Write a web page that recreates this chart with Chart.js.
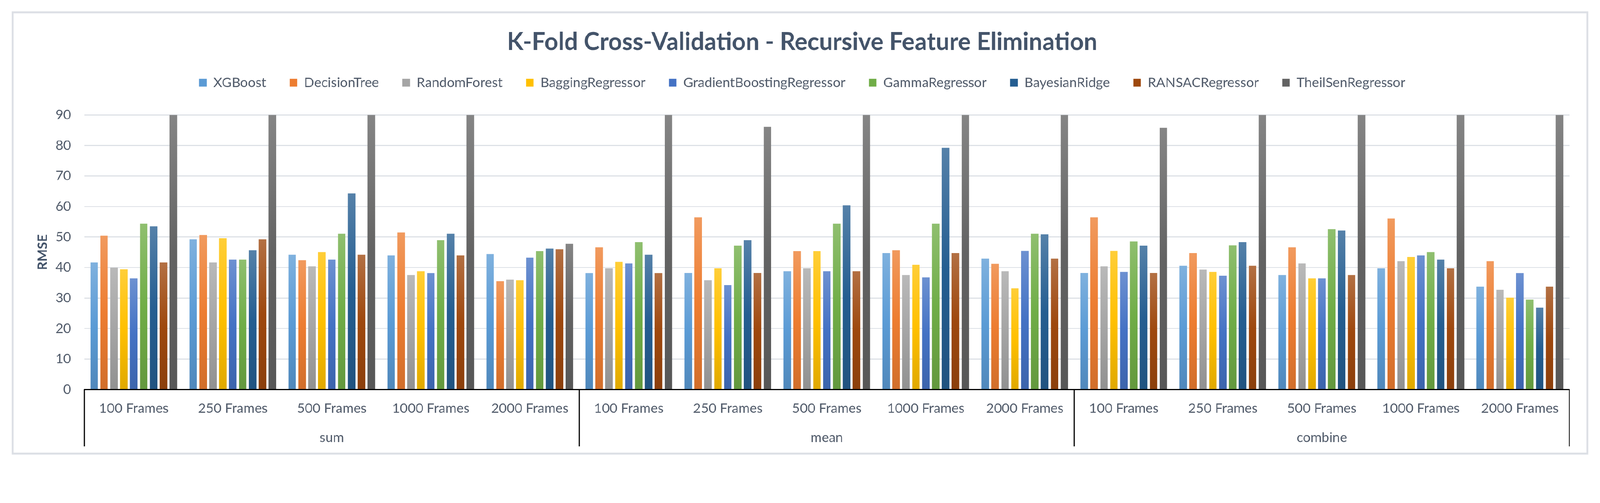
<!DOCTYPE html>
<html>
<head>
<meta charset="utf-8">
<title>K-Fold Cross-Validation - Recursive Feature Elimination</title>
<script src="https://cdn.jsdelivr.net/npm/chart.js@4.4.1/dist/chart.umd.min.js"></script>
<style>
  html, body { margin: 0; padding: 0; background: #fff; overflow: hidden; }
  #escena { position: absolute; left: 0; top: 0; width: 4386px; height: 1288px; transform-origin: 0 0; }
  .marco {
    position: absolute; left: 32px; top: 31px;
    width: 4322px; height: 1215px;
    border: 5px solid #dcdfe5; box-sizing: border-box;
  }
  canvas { display: block; }
</style>
</head>
<body>
<div id="escena">
  <div class="marco"><canvas id="grafica" width="4312" height="1205" style="width:4312px;height:1205px"></canvas></div>
</div>
<script>
// Categorias del eje x (5 tamaños por cada metodo de agregacion)
const frames = ['100 Frames', '250 Frames', '500 Frames', '1000 Frames', '2000 Frames'];
const grupos = ['sum', 'mean', 'combine'];
const yTicks = [0, 10, 20, 30, 40, 50, 60, 70, 80, 90];

// RMSE por modelo: sum(100..2000), mean(100..2000), combine(100..2000)
const xgboost        = [41.6, 49.3, 44.2, 44.0, 44.4, 38.1, 38.2, 38.8, 44.7, 42.9, 38.2, 40.6, 37.5, 39.7, 33.7];
const decisionTree   = [50.4, 50.6, 42.4, 51.5, 35.5, 46.6, 56.5, 45.3, 45.7, 41.2, 56.5, 44.7, 46.6, 56.0, 42.1];
const randomForest   = [39.9, 41.6, 40.4, 37.5, 36.0, 39.7, 35.8, 39.7, 37.5, 38.8, 40.4, 39.3, 41.3, 42.1, 32.7];
const bagging        = [39.4, 49.6, 45.0, 38.8, 35.8, 41.9, 39.7, 45.3, 40.9, 33.2, 45.5, 38.6, 36.5, 43.4, 30.1];
const gradBoosting   = [36.5, 42.6, 42.6, 38.1, 43.2, 41.3, 34.2, 38.8, 36.8, 45.5, 38.6, 37.3, 36.5, 44.0, 38.1];
const gamma          = [54.3, 42.6, 51.1, 48.9, 45.3, 48.3, 47.1, 54.3, 54.3, 51.1, 48.5, 47.3, 52.5, 45.0, 29.5];
const bayesianRidge  = [53.5, 45.7, 64.3, 51.1, 46.2, 44.2, 48.9, 60.4, 79.2, 50.8, 47.1, 48.3, 52.1, 42.6, 26.8];
const ransac         = [41.6, 49.3, 44.2, 44.0, 46.0, 38.1, 38.2, 38.8, 44.7, 42.9, 38.2, 40.6, 37.5, 39.7, 33.7];
const theilSen       = [90, 90, 90, 90, 47.8, 90, 86.1, 90, 90, 90, 85.8, 90, 90, 90, 90];

const modelos = ['XGBoost', 'DecisionTree', 'RandomForest', 'BaggingRegressor', 'GradientBoostingRegressor',
                 'GammaRegressor', 'BayesianRidge', 'RANSACRegressor', 'TheilSenRegressor'];
const series = [xgboost, decisionTree, randomForest, bagging, gradBoosting, gamma, bayesianRidge, ransac, theilSen];
const colores = ['#5b9bd5', '#ed7d31', '#a5a5a5', '#ffc000', '#4472c4', '#70ad47', '#255e91', '#9e480e', '#636363'];

const etiquetas = [];
grupos.forEach(() => frames.forEach(f => etiquetas.push(f)));

// la ventana real es mas estrecha: escalar la escena para que quepa
const k = window.innerWidth / 4386;
document.getElementById('escena').style.transform = 'scale(' + k + ')';

// mezcla un color hex con blanco (t>0) o negro (t<0)
function mezclar(hex, t) {
  const n = parseInt(hex.slice(1), 16);
  const c = [(n >> 16) & 255, (n >> 8) & 255, n & 255].map(v =>
    Math.round(t > 0 ? v + (255 - v) * t : v * (1 + t)));
  return 'rgb(' + c.join(',') + ')';
}

function degradado(base) {
  return function (ctx) {
    const chart = ctx.chart;
    if (ctx.type !== 'data' || !chart.chartArea || !chart.scales.y) return base;
    const y = chart.scales.y;
    const top = y.getPixelForValue(Math.min(ctx.raw, y.max));
    const bottom = y.getPixelForValue(0);
    if (!isFinite(top) || !isFinite(bottom) || top === bottom) return base;
    const g = chart.ctx.createLinearGradient(0, top, 0, bottom);
    g.addColorStop(0, mezclar(base, 0.22));
    g.addColorStop(0.5, base);
    g.addColorStop(1, mezclar(base, -0.12));
    return g;
  };
}

const fuente = 'Lato, "Open Sans", sans-serif';
const colorTexto = '#535d6c';

// lineas verticales que separan sum / mean / combine bajo el eje
const separadores = {
  id: 'separadores',
  afterDraw(chart) {
    const x = chart.scales.x, x2 = chart.scales.x2;
    const ancho = (x.right - x.left) / etiquetas.length;
    const c = chart.ctx;
    c.save();
    c.strokeStyle = '#000';
    c.lineWidth = 3;
    for (let i = 0; i <= grupos.length; i++) {
      const px = Math.round(x.left + i * frames.length * ancho);
      c.beginPath();
      c.moveTo(px, chart.chartArea.bottom);
      c.lineTo(px, x2.bottom);
      c.stroke();
    }
    c.restore();
  }
};

// espacio extra entre la leyenda y el area del grafico
const espacioLeyenda = {
  id: 'espacioLeyenda',
  beforeInit(chart) {
    const fit = chart.legend.fit;
    chart.legend.fit = function () {
      fit.bind(chart.legend)();
      this.height += 60;
    };
  }
};

new Chart(document.getElementById('grafica'), {
  type: 'bar',
  data: {
    labels: etiquetas,
    datasets: modelos.map((m, i) => ({
      label: m,
      data: series[i],
      backgroundColor: degradado(colores[i]),
      borderWidth: 0,
      barPercentage: 0.76,
      categoryPercentage: 0.9
    }))
  },
  options: {
    responsive: false,
    devicePixelRatio: 1,
    animation: false,
    layout: { padding: { left: 59, right: 47, top: 0, bottom: 17 } },
    plugins: {
      title: {
        display: true,
        text: 'K-Fold Cross-Validation - Recursive Feature Elimination',
        color: '#44546a',
        font: { family: fuente, size: 66, weight: 'bold' },
        padding: { top: 40, bottom: -11 }
      },
      legend: {
        position: 'top',
        labels: {
          color: colorTexto,
          font: { family: fuente, size: 37 },
          boxWidth: 21,
          boxHeight: 22,
          padding: 64,
          generateLabels(chart) {
            return chart.data.datasets.map((d, i) => ({
              text: d.label,
              fillStyle: colores[i],
              strokeStyle: colores[i],
              lineWidth: 0,
              hidden: !chart.isDatasetVisible(i),
              datasetIndex: i,
              fontColor: colorTexto
            }));
          }
        }
      },
      tooltip: { enabled: false }
    },
    scales: {
      x: {
        grid: { display: false, drawTicks: false },
        border: { display: true, color: '#000', width: 3 },
        ticks: {
          color: colorTexto,
          font: { family: fuente, size: 37 },
          padding: 30,
          maxRotation: 0,
          autoSkip: false
        },
        afterFit(axis) { axis.height = 76; }
      },
      x2: {
        type: 'category',
        labels: grupos,
        position: 'bottom',
        offset: true,
        grid: { display: false, drawTicks: false },
        border: { display: false },
        ticks: {
          color: colorTexto,
          font: { family: fuente, size: 37 },
          padding: 34,
          maxRotation: 0
        },
        afterFit(axis) { axis.height = 80; }
      },
      y: {
        min: 0,
        max: 90,
        afterBuildTicks(axis) { axis.ticks = yTicks.map(v => ({ value: v })); },
        afterFit(axis) { axis.width = 135; },
        grid: { color: '#dde1e6', lineWidth: 3, drawTicks: false },
        border: { display: false },
        ticks: {
          color: colorTexto,
          font: { family: fuente, size: 37 },
          padding: 36
        },
        title: {
          display: true,
          text: 'RMSE',
          color: '#44546a',
          font: { family: fuente, size: 36, weight: 'bold' },
          padding: { top: 0, bottom: 13 }
        }
      }
    }
  },
  plugins: [separadores, espacioLeyenda]
});
</script>
</body>
</html>
